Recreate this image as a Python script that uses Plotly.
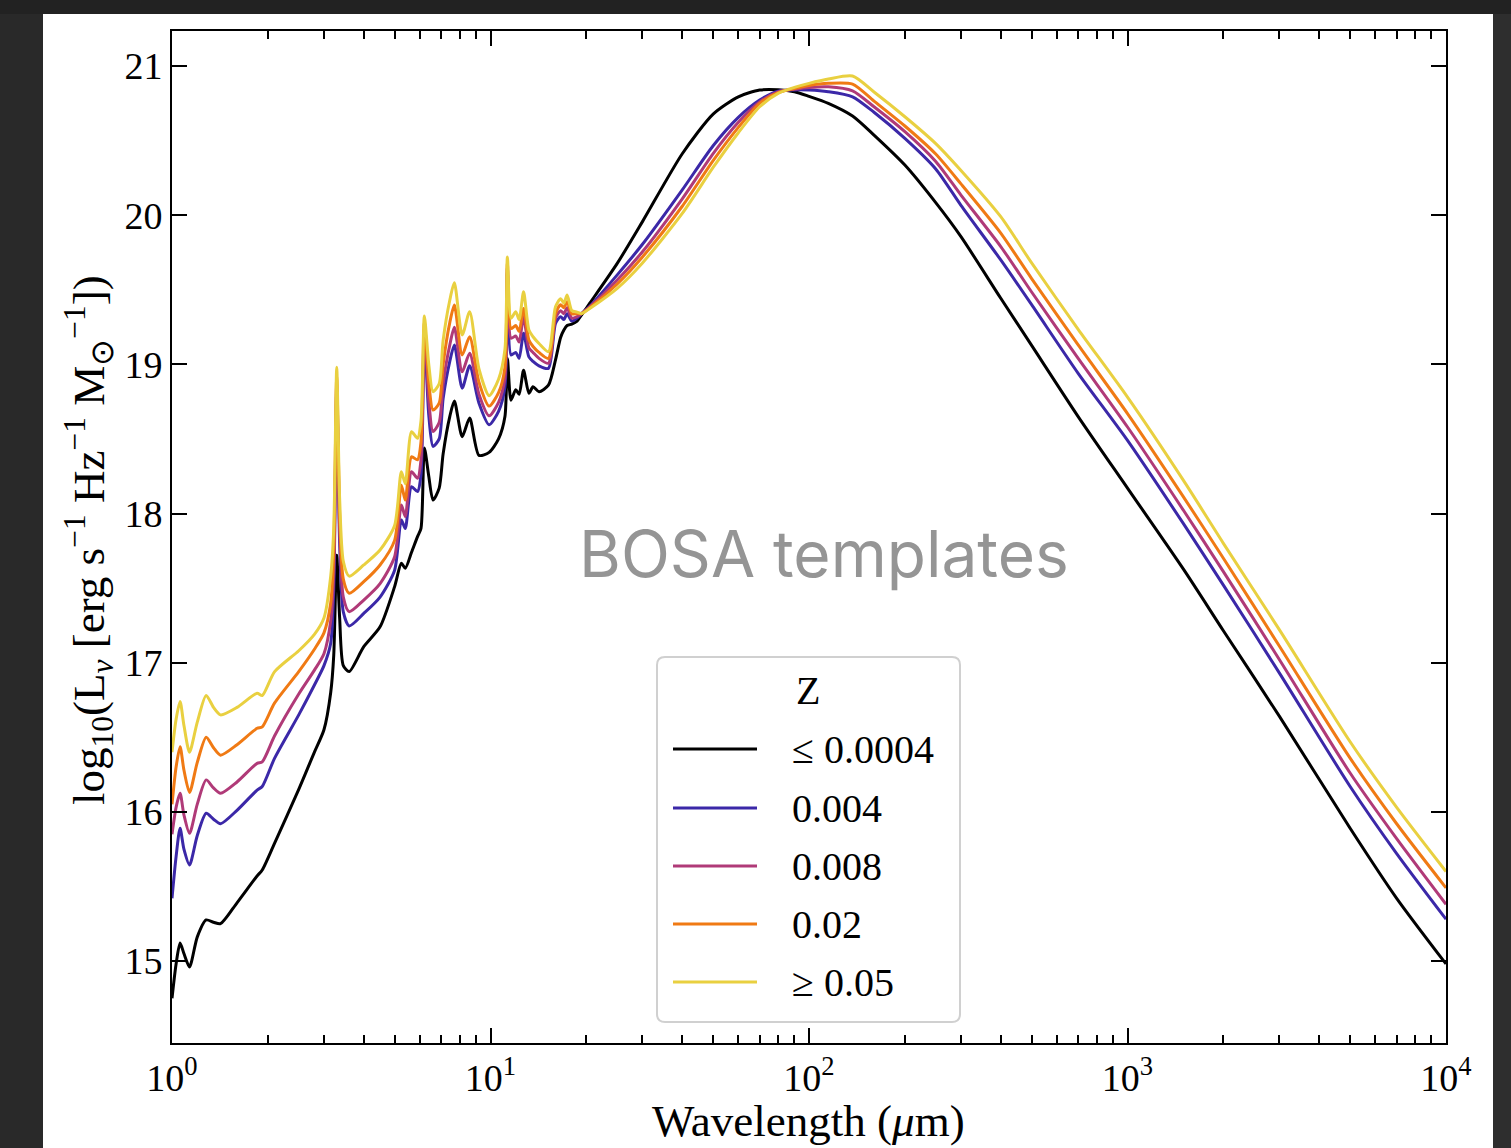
import plotly.graph_objects as go

# Wavelength grid (micron) shared by all templates
wavelength_um = [1.0, 1.03, 1.06, 1.09, 1.135, 1.2, 1.28, 1.35, 1.42, 1.6, 1.85, 1.92, 2.1, 2.5,
                 2.8, 3.0, 3.15, 3.22, 3.29, 3.36, 3.45, 3.6, 4.0, 4.5, 5.0, 5.25, 5.4, 5.65, 5.9,
                 6.05, 6.2, 6.4, 6.6, 6.9, 7.1, 7.45, 7.7, 8.15, 8.6, 9.2, 9.9, 10.6, 11.1, 11.3,
                 11.6, 12.0, 12.3, 12.7, 13.2, 13.6, 14.2, 15.2, 16.0, 16.6, 17.0, 17.4, 18.0, 18.7,
                 19.3, 20.5, 25, 30, 40, 50, 60, 70, 80, 90, 100, 115, 137, 160, 200, 250, 300,
                 400, 500, 700, 1000, 1500, 2000, 3000, 5000, 7000, 10000]

# log10(L_nu) per unit stellar mass for each metallicity bin
lnu_z00004 = [14.75, 14.98, 15.12, 15.05, 14.96, 15.16, 15.275, 15.26, 15.25, 15.39, 15.57, 15.61,
              15.79, 16.15, 16.40, 16.55, 16.80, 17.05, 17.72, 17.30, 16.98, 16.94, 17.107, 17.24,
              17.51, 17.666, 17.633, 17.74, 17.845, 17.90, 18.44, 18.25, 18.09, 18.17, 18.40,
              18.65, 18.754, 18.515, 18.64, 18.39, 18.41, 18.50, 18.65, 19.04, 18.76, 18.83,
              18.80, 18.96, 18.806, 18.85, 18.817, 18.86, 19.03, 19.18, 19.23, 19.26, 19.27,
              19.29, 19.33, 19.41, 19.677, 19.957, 20.412, 20.678, 20.794, 20.839, 20.841,
              20.828, 20.797, 20.75, 20.665, 20.537, 20.336, 20.084, 19.856, 19.443, 19.127,
              18.65, 18.17, 17.625, 17.214, 16.64, 15.89, 15.42, 14.98]

lnu_z0004 = [15.42, 15.70, 15.89, 15.75, 15.644, 15.84, 15.99, 15.95, 15.92, 16.01, 16.146, 16.17,
             16.36, 16.65, 16.85, 16.98, 17.13, 17.50, 18.82, 17.80, 17.34, 17.246, 17.33, 17.44,
             17.62, 17.957, 17.90, 18.18, 18.147, 18.26, 19.20, 18.66, 18.45, 18.50, 18.77,
             19.02, 19.13, 18.84, 18.99, 18.74, 18.595, 18.685, 18.85, 19.62, 19.063, 19.08,
             19.04, 19.208, 19.05, 19.02, 18.99, 18.973, 19.275, 19.32, 19.30, 19.34, 19.29,
             19.31, 19.34, 19.39, 19.60, 19.805, 20.17, 20.466, 20.656, 20.772, 20.832, 20.84,
             20.839, 20.828, 20.794, 20.69, 20.515, 20.31, 20.066, 19.70, 19.40, 18.94, 18.49,
             17.93, 17.52, 16.93, 16.17, 15.72, 15.28]

lnu_z0008 = [15.85, 16.03, 16.124, 15.98, 15.856, 16.05, 16.214, 16.16, 16.124, 16.20, 16.325,
             16.335, 16.51, 16.79, 16.95, 17.06, 17.28, 17.60, 18.87, 17.90, 17.44, 17.342, 17.42,
             17.53, 17.71, 18.057, 17.98, 18.28, 18.236, 18.36, 19.24, 18.76, 18.55, 18.61,
             18.87, 19.13, 19.248, 18.95, 19.074, 18.80, 18.655, 18.745, 18.91, 19.65, 19.175,
             19.19, 19.15, 19.32, 19.11, 19.08, 19.04, 19.007, 19.31, 19.36, 19.34, 19.38, 19.31,
             19.32, 19.34, 19.385, 19.565, 19.755, 20.11, 20.413, 20.623, 20.76, 20.827, 20.845,
             20.857, 20.861, 20.834, 20.727, 20.56, 20.36, 20.135, 19.79, 19.485, 19.04, 18.58,
             18.02, 17.61, 17.02, 16.26, 15.82, 15.38]

lnu_z002 = [16.05, 16.30, 16.437, 16.28, 16.13, 16.33, 16.50, 16.43, 16.38, 16.45, 16.56, 16.57,
            16.73, 16.94, 17.09, 17.20, 17.40, 17.75, 18.92, 18.00, 17.56, 17.465, 17.543, 17.655,
            17.82, 18.19, 18.09, 18.38, 18.36, 18.48, 19.28, 18.88, 18.694, 18.74, 19.00, 19.28,
            19.398, 19.063, 19.185, 18.88, 18.72, 18.81, 18.98, 19.68, 19.24, 19.26, 19.22,
            19.375, 19.163, 19.12, 19.08, 19.04, 19.34, 19.40, 19.38, 19.42, 19.34, 19.34, 19.34,
            19.38, 19.539, 19.72, 20.06, 20.366, 20.589, 20.75, 20.822, 20.85, 20.87, 20.884,
            20.879, 20.765, 20.598, 20.41, 20.21, 19.88, 19.575, 19.13, 18.67, 18.11, 17.70,
            17.11, 16.36, 15.92, 15.49]

lnu_z005 = [16.40, 16.62, 16.74, 16.58, 16.40, 16.60, 16.78, 16.70, 16.65, 16.70, 16.795, 16.78,
            16.94, 17.08, 17.19, 17.30, 17.58, 17.90, 18.98, 18.10, 17.68, 17.58, 17.655, 17.755,
            17.92, 18.28, 18.20, 18.548, 18.504, 18.62, 19.324, 19.00, 18.817, 18.87, 19.16,
            19.43, 19.547, 19.197, 19.353, 18.97, 18.79, 18.90, 19.10, 19.72, 19.31, 19.353,
            19.30, 19.487, 19.23, 19.185, 19.14, 19.085, 19.386, 19.44, 19.41, 19.465, 19.36,
            19.35, 19.34, 19.375, 19.51, 19.68, 20.012, 20.32, 20.553, 20.727, 20.817, 20.857,
            20.884, 20.913, 20.933, 20.826, 20.66, 20.48, 20.30, 19.99, 19.68, 19.235, 18.78,
            18.22, 17.80, 17.22, 16.47, 16.03, 15.60]

series_labels = ["≤ 0.0004", "0.004", "0.008", "0.02", "≥ 0.05"]
series_values = [lnu_z00004, lnu_z0004, lnu_z0008, lnu_z002, lnu_z005]
series_colors = ["#000000", "#3b28a8", "#b03a78", "#f07a14", "#e9d040"]

x_tickvals = [1, 10, 100, 1000, 10000]
x_ticktext = ["10<sup>0</sup>", "10<sup>1</sup>", "10<sup>2</sup>", "10<sup>3</sup>", "10<sup>4</sup>"]
y_tickvals = [15, 16, 17, 18, 19, 20, 21]

W, H = 1511, 1148
PL, PR, PT, PB = 172, 1446, 31, 1043  # plot area edges in pixels


def px(x):
    return (x - PL) / (PR - PL)


def py(y):
    return (PB - y) / (PB - PT)


SERIF = "Liberation Serif, Times New Roman, serif"

fig = go.Figure()
for label, vals, col in zip(series_labels, series_values, series_colors):
    fig.add_trace(go.Scatter(x=wavelength_um, y=vals, mode="lines", name=label,
                             line=dict(color=col, width=3, shape="spline", smoothing=0.7),
                             showlegend=False))

shapes = []
# figure canvas: dark surround with white page
shapes.append(dict(type="rect", xref="paper", yref="paper", x0=px(0), x1=px(43), y0=py(H), y1=py(14),
                   fillcolor="#292929", line=dict(width=0), layer="below"))
shapes.append(dict(type="rect", xref="paper", yref="paper", x0=px(1493), x1=px(W), y0=py(H), y1=py(14),
                   fillcolor="#2e2e2e", line=dict(width=0), layer="below"))
shapes.append(dict(type="rect", xref="paper", yref="paper", x0=px(43), x1=px(1493), y0=py(H), y1=py(14),
                   fillcolor="white", line=dict(width=0), layer="below"))

# legend box with rounded corners
bx0, bx1, by0, by1, r = 657, 960, 657, 1022, 8
path = (f"M {px(bx0 + r)},{py(by0)} L {px(bx1 - r)},{py(by0)} Q {px(bx1)},{py(by0)} {px(bx1)},{py(by0 + r)} "
        f"L {px(bx1)},{py(by1 - r)} Q {px(bx1)},{py(by1)} {px(bx1 - r)},{py(by1)} "
        f"L {px(bx0 + r)},{py(by1)} Q {px(bx0)},{py(by1)} {px(bx0)},{py(by1 - r)} "
        f"L {px(bx0)},{py(by0 + r)} Q {px(bx0)},{py(by0)} {px(bx0 + r)},{py(by0)} Z")
shapes.append(dict(type="path", xref="paper", yref="paper", path=path, fillcolor="white",
                   line=dict(color="#d0d0d0", width=2), layer="above"))

annotations = []
annotations.append(dict(text="Z", xref="paper", yref="paper", x=px(808), y=py(690), showarrow=False,
                        xanchor="center", yanchor="middle", font=dict(family=SERIF, size=40, color="black")))
row_y = [749, 808, 866, 924, 982]
for label, col, yy in zip(series_labels, series_colors, row_y):
    shapes.append(dict(type="line", xref="paper", yref="paper", x0=px(673), x1=px(757), y0=py(yy), y1=py(yy),
                       line=dict(color=col, width=3), layer="above"))
    annotations.append(dict(text=label, xref="paper", yref="paper", x=px(790), y=py(yy), showarrow=False,
                            xanchor="left", yanchor="middle",
                            font=dict(family=SERIF, size=40, color="black")))

annotations.append(dict(text="BOSA templates", xref="paper", yref="paper", x=px(824), y=py(553),
                        showarrow=False, xanchor="center", yanchor="middle",
                        font=dict(family="Inter, Lato, sans-serif", size=64, color="#959595")))

# axis titles
annotations.append(dict(text="Wavelength (<i>μ</i>m)", xref="paper", yref="paper", x=px(808), y=py(1121),
                        showarrow=False, xanchor="center", yanchor="middle",
                        font=dict(family=SERIF, size=45, color="black")))
annotations.append(dict(text="log<sub>10</sub>(L<sub><i>ν</i></sub> [erg s<sup>−1</sup> Hz<sup>−1</sup> "
                             "M<sub>⊙</sub><sup>−1</sup>])",
                        xref="paper", yref="paper", x=px(88), y=py(540), textangle=-90,
                        showarrow=False, xanchor="center", yanchor="middle",
                        font=dict(family=SERIF, size=45, color="black")))

axis_common = dict(showline=True, linecolor="black", linewidth=2, mirror="allticks", ticks="inside",
                   ticklen=15, tickwidth=2.2, tickcolor="black", showgrid=False, zeroline=False,
                   tickfont=dict(family=SERIF, size=38, color="black"))

fig.update_layout(
    width=W, height=H,
    margin=dict(l=PL, r=W - PR, t=PT, b=H - PB, pad=0),
    paper_bgcolor="#222222", plot_bgcolor="white",
    shapes=shapes, annotations=annotations, showlegend=False,
    xaxis=dict(type="log", range=[0, 4], tickmode="array", tickvals=x_tickvals, ticktext=x_ticktext,
               minor=dict(ticks="inside", ticklen=8, tickwidth=1.6, tickcolor="black", dtick="D1",
                          showgrid=False),
               **axis_common),
    yaxis=dict(range=[14.45, 21.235], tickmode="array", tickvals=y_tickvals, **axis_common),
)

fig.write_html("out.html")
